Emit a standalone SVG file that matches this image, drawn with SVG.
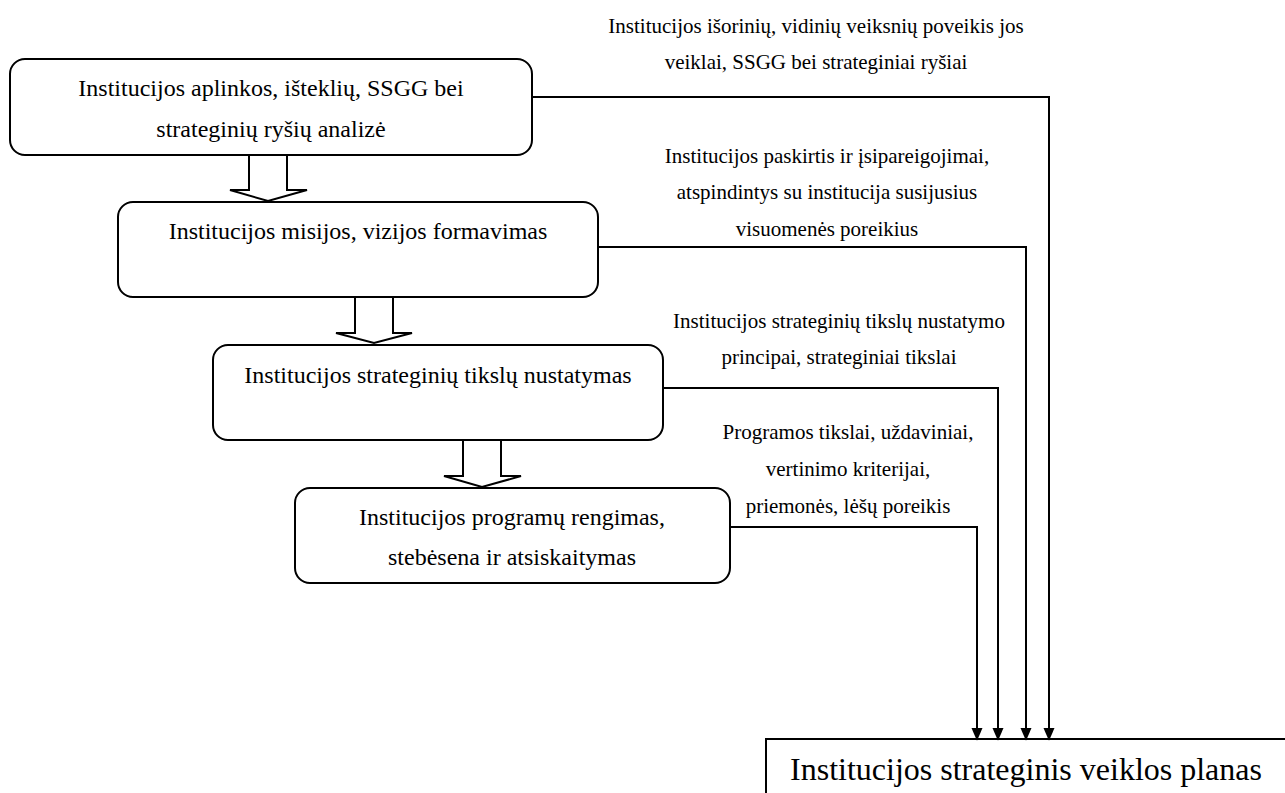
<svg xmlns="http://www.w3.org/2000/svg" width="1285" height="793" viewBox="0 0 1285 793">
<style>
.box{fill:#fff;stroke:#000;stroke-width:2}
.barrow{fill:#fff;stroke:#000;stroke-width:2;stroke-linejoin:miter}
.conn{fill:none;stroke:#000;stroke-width:2}
.bt{font-family:"Liberation Serif","Times New Roman",serif;font-size:24px;fill:#000;text-anchor:middle}
.lt{font-family:"Liberation Serif","Times New Roman",serif;font-size:21px;fill:#000;text-anchor:middle}
.big{font-family:"Liberation Serif","Times New Roman",serif;font-size:32px;fill:#000;text-anchor:middle}
</style>
<defs>
<marker id="ah" markerWidth="13" markerHeight="15" refX="13" refY="6.5" orient="auto" markerUnits="userSpaceOnUse" viewBox="0 0 15 13">
<path d="M0,0 L15,6.5 L0,13 Z" fill="#000"/>
</marker>
</defs>
<rect width="1285" height="793" fill="#fff"/>

<g id="node-analize">
<rect class="box" x="10" y="59" width="522" height="96" rx="15" ry="15"/>
<text class="bt" x="271" y="96">Institucijos aplinkos, išteklių, SSGG bei</text>
<text class="bt" x="271" y="137">strateginių ryšių analizė</text>
</g>

<g id="node-misija">
<rect class="box" x="118" y="202" width="480" height="95" rx="15" ry="15"/>
<text class="bt" x="358" y="239">Institucijos misijos, vizijos formavimas</text>
</g>

<g id="node-tikslai">
<rect class="box" x="213" y="345" width="450" height="95" rx="15" ry="15"/>
<text class="bt" x="438" y="383">Institucijos strateginių tikslų nustatymas</text>
</g>

<g id="node-programos">
<rect class="box" x="295" y="488" width="435" height="95" rx="15" ry="15"/>
<text class="bt" x="512" y="525">Institucijos programų rengimas,</text>
<text class="bt" x="512" y="565">stebėsena ir atsiskaitymas</text>
</g>

<g id="node-planas">
<rect class="box" x="766" y="739" width="540" height="80"/>
<text class="big" x="1026" y="780">Institucijos strateginis veiklos planas</text>
</g>

<g id="block-arrows">
<polygon class="barrow" points="249,155 287,155 287,190 307,190 268,201 230,190 249,190"/>
<polygon class="barrow" points="355,297 393,297 393,333 412,333 374,343 336,333 355,333"/>
<polygon class="barrow" points="463,440 501,440 501,476 521,476 482,487 444,476 463,476"/>
</g>

<g id="connectors">
<polyline class="conn" points="532,97 1049,97 1049,739" marker-end="url(#ah)"/>
<polyline class="conn" points="598,247 1026,247 1026,739" marker-end="url(#ah)"/>
<polyline class="conn" points="663,388 998,388 998,739" marker-end="url(#ah)"/>
<polyline class="conn" points="730,527 977,527 977,739" marker-end="url(#ah)"/>
</g>

<g id="labels">
<text class="lt" x="816" y="33">Institucijos išorinių, vidinių veiksnių poveikis jos</text>
<text class="lt" x="816" y="69">veiklai, SSGG bei strateginiai ryšiai</text>
<text class="lt" x="827" y="163">Institucijos paskirtis ir įsipareigojimai,</text>
<text class="lt" x="827" y="199">atspindintys su institucija susijusius</text>
<text class="lt" x="827" y="236">visuomenės poreikius</text>
<text class="lt" x="839" y="328">Institucijos strateginių tikslų nustatymo</text>
<text class="lt" x="839" y="364">principai, strateginiai tikslai</text>
<text class="lt" x="848" y="439">Programos tikslai, uždaviniai,</text>
<text class="lt" x="848" y="476">vertinimo kriterijai,</text>
<text class="lt" x="848" y="513">priemonės, lėšų poreikis</text>
</g>
</svg>
